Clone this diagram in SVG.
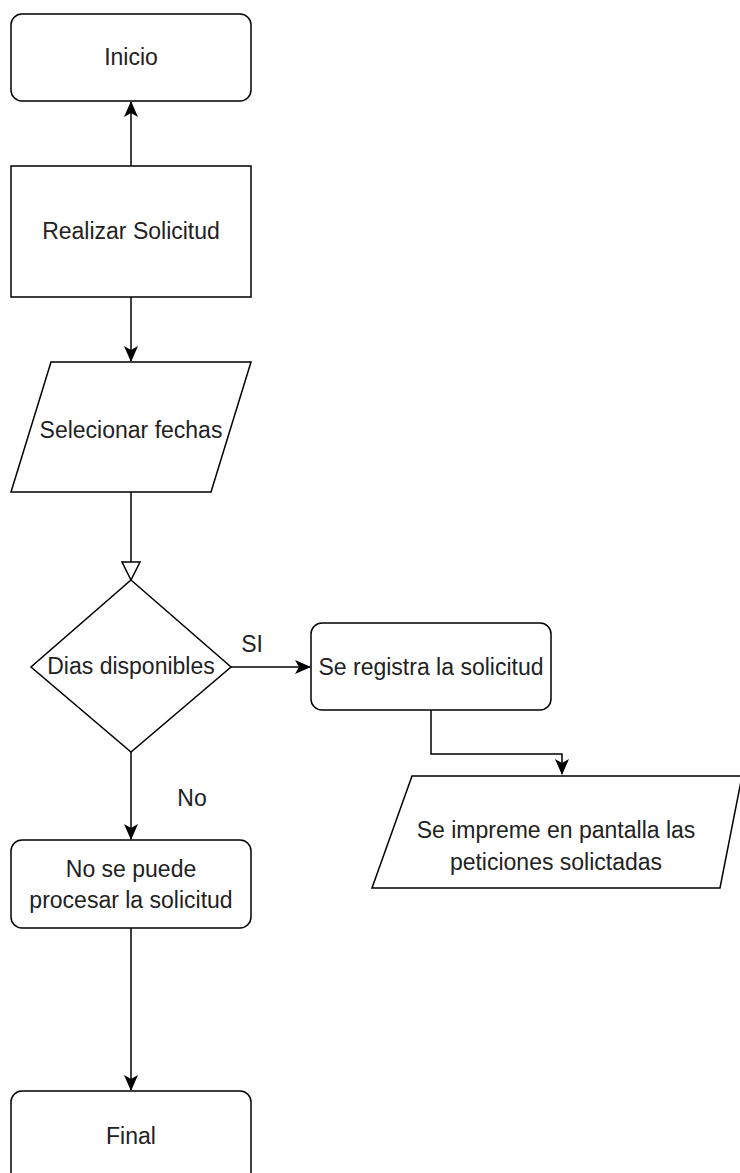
<svg xmlns="http://www.w3.org/2000/svg" width="740" height="1173" viewBox="0 0 740 1173">
<defs>
<style>
.n{fill:#fff;stroke:#000;stroke-width:1.5}
.c{fill:none;stroke:#000;stroke-width:1.5}
text{font-family:"Liberation Sans",Arial,sans-serif;font-size:23px;fill:#222;text-anchor:middle}
</style>
<marker id="a" viewBox="0 0 16 14" refX="15" refY="7" markerWidth="16" markerHeight="14" markerUnits="userSpaceOnUse" orient="auto">
<path d="M0,0 L16,7 L0,14 L4,7 Z" fill="#000"/>
</marker>
<marker id="o" viewBox="0 0 20 20" refX="19" refY="10" markerWidth="20" markerHeight="20" markerUnits="userSpaceOnUse" orient="auto">
<path d="M1,1 L19,10 L1,19 Z" fill="#fff" stroke="#000" stroke-width="1.5"/>
</marker>
</defs>
<g id="connectors">
<path class="c" d="M131,166 V102" marker-end="url(#a)"/>
<path class="c" d="M131,297 V361" marker-end="url(#a)"/>
<path class="c" d="M131,492 V580" marker-end="url(#o)"/>
<path class="c" d="M231,667 H310" marker-end="url(#a)"/>
<path class="c" d="M431,710 V754 H562 V774" marker-end="url(#a)"/>
<path class="c" d="M131,752 V839" marker-end="url(#a)"/>
<path class="c" d="M131,928 V1090" marker-end="url(#a)"/>
<text x="252" y="652">SI</text>
<text x="192" y="806">No</text>
</g>
<g id="inicio">
<rect class="n" x="11" y="14" width="240" height="87" rx="11"/>
<text x="131" y="65">Inicio</text>
</g>
<g id="realizar">
<rect class="n" x="11" y="166" width="240" height="131"/>
<text x="131" y="239">Realizar Solicitud</text>
</g>
<g id="selecionar">
<path class="n" d="M51,362 H251 L211,492 H11 Z"/>
<text x="131" y="438">Selecionar fechas</text>
</g>
<g id="dias">
<path class="n" d="M131,580 L231,667 L131,752 L31,667 Z"/>
<text x="131" y="674">Dias disponibles</text>
</g>
<g id="registra">
<rect class="n" x="311" y="623" width="240" height="87" rx="11"/>
<text x="431" y="675">Se registra la solicitud</text>
</g>
<g id="imprime">
<path class="n" d="M412,776 H742 L720,888 H372 Z"/>
<text x="556" y="838">Se impreme en pantalla las</text>
<text x="556" y="870">peticiones solictadas</text>
</g>
<g id="nosepuede">
<rect class="n" x="11" y="840" width="240" height="88" rx="11"/>
<text x="131" y="877">No se puede</text>
<text x="131" y="908">procesar la solicitud</text>
</g>
<g id="final">
<rect class="n" x="11" y="1091" width="240" height="100" rx="11"/>
<text x="131" y="1144">Final</text>
</g>
</svg>
